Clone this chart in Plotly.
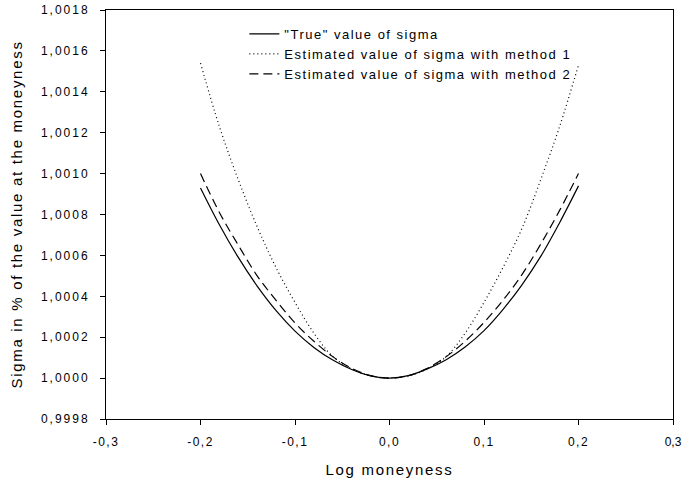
import plotly.graph_objects as go

# Log moneyness grid
log_moneyness = [-0.20, -0.18, -0.16, -0.14, -0.12, -0.10, -0.08, -0.06, -0.04, -0.02, 0.00,
                 0.02, 0.04, 0.06, 0.08, 0.10, 0.12, 0.14, 0.16, 0.18, 0.20]

true_sigma = [1.00093, 1.00075, 1.00059, 1.00045, 1.00033, 1.00023, 1.000150, 1.000088, 1.000042, 1.000011, 1.0,
              1.000012, 1.000045, 1.000090, 1.000152, 1.000232, 1.000335, 1.000455, 1.000595, 1.00076, 1.00094]

method1_sigma = [1.00154, 1.00123, 1.00097, 1.00074, 1.00054, 1.00037, 1.00022, 1.000105, 1.000045, 1.000011, 1.0,
                 1.000011, 1.000045, 1.000105, 1.00022, 1.00037, 1.00054, 1.00073, 1.00097, 1.00123, 1.00153]

method2_sigma = [1.00100, 1.00081, 1.00065, 1.00050, 1.00038, 1.00027, 1.00018, 1.000105, 1.000048, 1.000012, 1.0,
                 1.000012, 1.000048, 1.000105, 1.00018, 1.000272, 1.00038, 1.000505, 1.000655, 1.00082, 1.00100]

x_ticks = [-0.3, -0.2, -0.1, 0.0, 0.1, 0.2, 0.3]
x_tick_labels = ["-0,3", "-0,2", "-0,1", "0,0", "0,1", "0,2", "0,3"]
y_ticks = [0.9998, 1.0000, 1.0002, 1.0004, 1.0006, 1.0008, 1.0010, 1.0012, 1.0014, 1.0016, 1.0018]
y_tick_labels = ["0,9998", "1,0000", "1,0002", "1,0004", "1,0006", "1,0008", "1,0010",
                 "1,0012", "1,0014", "1,0016", "1,0018"]

FONT = "Liberation Sans, Arial, sans-serif"

fig = go.Figure()
fig.add_trace(go.Scatter(x=log_moneyness, y=true_sigma, mode="lines", name='"True" value of sigma',
                         line=dict(color="black", width=1.2, shape="spline")))
fig.add_trace(go.Scatter(x=log_moneyness, y=method1_sigma, mode="lines",
                         name="Estimated value of sigma with method 1",
                         line=dict(color="black", width=1.2, dash="1px,3px", shape="spline")))
fig.add_trace(go.Scatter(x=log_moneyness, y=method2_sigma, mode="lines",
                         name="Estimated value of sigma with method 2",
                         line=dict(color="black", width=1.2, dash="9px,5px", shape="spline")))

fig.update_layout(
    width=682, height=491,
    margin=dict(l=106, r=9, t=10, b=72, autoexpand=False),
    paper_bgcolor="white", plot_bgcolor="white",
    font=dict(family=FONT, size=12, color="black"),
    showlegend=True,
    legend=dict(x=0.244, y=0.978, xanchor="left", yanchor="top",
                bgcolor="rgba(0,0,0,0)", font=dict(size=13, family=FONT),
                tracegroupgap=0),
    xaxis=dict(range=[-0.3, 0.3], tickvals=x_ticks, ticktext=x_tick_labels,
               showgrid=False, zeroline=False, showline=True, linecolor="black", linewidth=1,
               mirror=True, ticks="outside", ticklen=5, tickcolor="black",
               tickfont=dict(size=12), automargin=False, ticklabelstandoff=7,
               ticklabeloverflow="allow",
               title=dict(text="Log moneyness", font=dict(size=15), standoff=16)),
    yaxis=dict(range=[0.9998, 1.0018], tickvals=y_ticks, ticktext=y_tick_labels,
               showgrid=False, zeroline=False, showline=True, linecolor="black", linewidth=1,
               mirror=True, ticks="outside", ticklen=5, tickcolor="black",
               tickfont=dict(size=12), automargin=True, ticklabelstandoff=8,
               ticklabeloverflow="allow",
               title=dict(text="Sigma in % of the value at the moneyness", font=dict(size=15), standoff=14)),
)

post = """
var s = document.createElement('style');
s.innerHTML = 'body{margin:0;padding:0;}' +
  'svg text{letter-spacing:2px;}' +
  'g.xtick text{letter-spacing:1.5px;}' +
  'g.xtick:last-of-type text{letter-spacing:0px;}' +
  'text.legendtext{letter-spacing:1.5px;}' +
  'text.xtitle,text.ytitle{letter-spacing:1.7px;}';
document.head.appendChild(s);
var gd = document.getElementById('{plot_id}');
var L = gd.layout;
L.legend.font.size = 13.01;
L.xaxis.tickfont.size = 12.01;
L.yaxis.tickfont.size = 12.01;
L.xaxis.title.font.size = 15.01;
L.yaxis.title.font.size = 15.01;
return Plotly.newPlot(gd, gd.data, L, {displayModeBar: false});
"""

fig.write_html("out.html", post_script=post, config={"displayModeBar": False})
